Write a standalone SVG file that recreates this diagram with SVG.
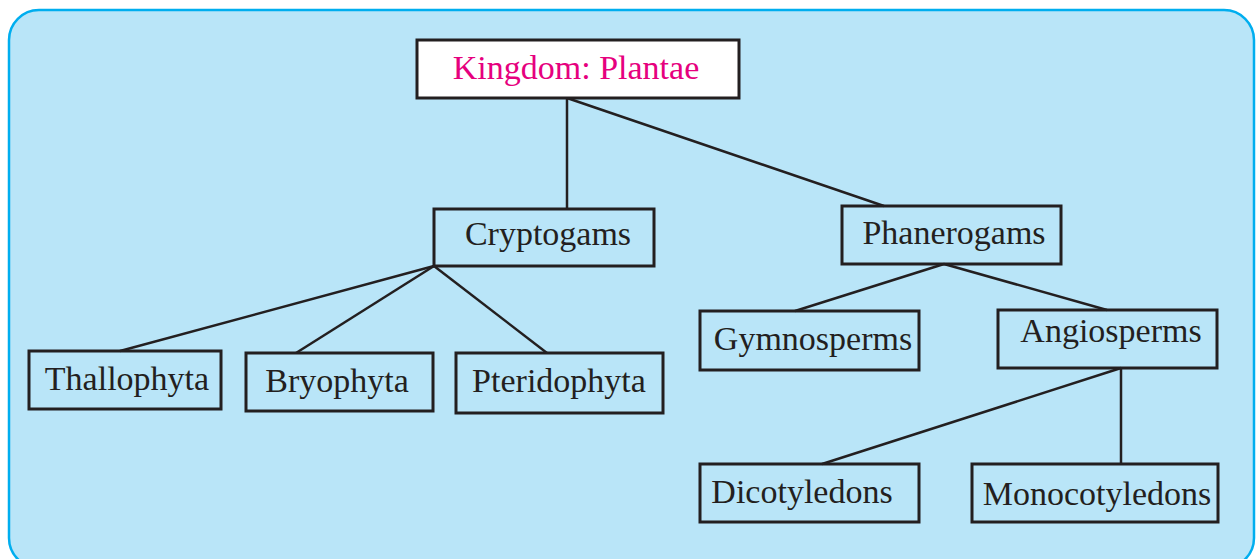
<svg xmlns="http://www.w3.org/2000/svg" width="1257" height="559" viewBox="0 0 1257 559">
<style>
.bx{fill:none;stroke:#231F20;stroke-width:3}
.t{font-family:"Liberation Serif","Times New Roman",serif;font-size:34px;fill:#231F20;text-anchor:middle}
.ln{stroke:#231F20;stroke-width:2.5;fill:none}
</style>
<rect x="9" y="10" width="1245" height="558" rx="30" ry="30" fill="#B9E5F8" stroke="#00AEEF" stroke-width="2.5"/>
<g id="connectors">
<line class="ln" x1="567" y1="98" x2="567" y2="209"/>
<line class="ln" x1="567" y1="98" x2="884" y2="206"/>
<line class="ln" x1="434" y1="266" x2="120" y2="351"/>
<line class="ln" x1="434" y1="266" x2="296" y2="353"/>
<line class="ln" x1="434" y1="266" x2="547" y2="353"/>
<line class="ln" x1="944" y1="264" x2="795" y2="311"/>
<line class="ln" x1="944" y1="264" x2="1107" y2="310"/>
<line class="ln" x1="1121" y1="368" x2="822" y2="464"/>
<line class="ln" x1="1121" y1="368" x2="1121" y2="464"/>
</g>
<g id="kingdom">
<rect x="417" y="40" width="322" height="58" fill="#FFFFFF" stroke="#231F20" stroke-width="3"/>
<text class="t" x="576" y="79" style="fill:#E6007E">Kingdom: Plantae</text>
</g>
<g id="cryptogams">
<rect class="bx" x="434" y="209" width="220" height="57"/>
<text class="t" x="548" y="245">Cryptogams</text>
</g>
<g id="phanerogams">
<rect class="bx" x="842" y="206" width="219" height="58"/>
<text class="t" x="954" y="244">Phanerogams</text>
</g>
<g id="thallophyta">
<rect class="bx" x="29" y="351" width="192" height="58"/>
<text class="t" x="127" y="390">Thallophyta</text>
</g>
<g id="bryophyta">
<rect class="bx" x="246" y="353" width="187" height="58"/>
<text class="t" x="337" y="392">Bryophyta</text>
</g>
<g id="pteridophyta">
<rect class="bx" x="456" y="353" width="207" height="60"/>
<text class="t" x="559" y="392">Pteridophyta</text>
</g>
<g id="gymnosperms">
<rect class="bx" x="700" y="311" width="219" height="59"/>
<text class="t" x="813" y="350">Gymnosperms</text>
</g>
<g id="angiosperms">
<rect class="bx" x="998" y="310" width="219" height="58"/>
<text class="t" x="1111" y="342">Angiosperms</text>
</g>
<g id="dicotyledons">
<rect class="bx" x="700" y="464" width="219" height="58"/>
<text class="t" x="802" y="503">Dicotyledons</text>
</g>
<g id="monocotyledons">
<rect class="bx" x="972" y="464" width="246" height="58"/>
<text class="t" x="1097" y="505">Monocotyledons</text>
</g>
</svg>
